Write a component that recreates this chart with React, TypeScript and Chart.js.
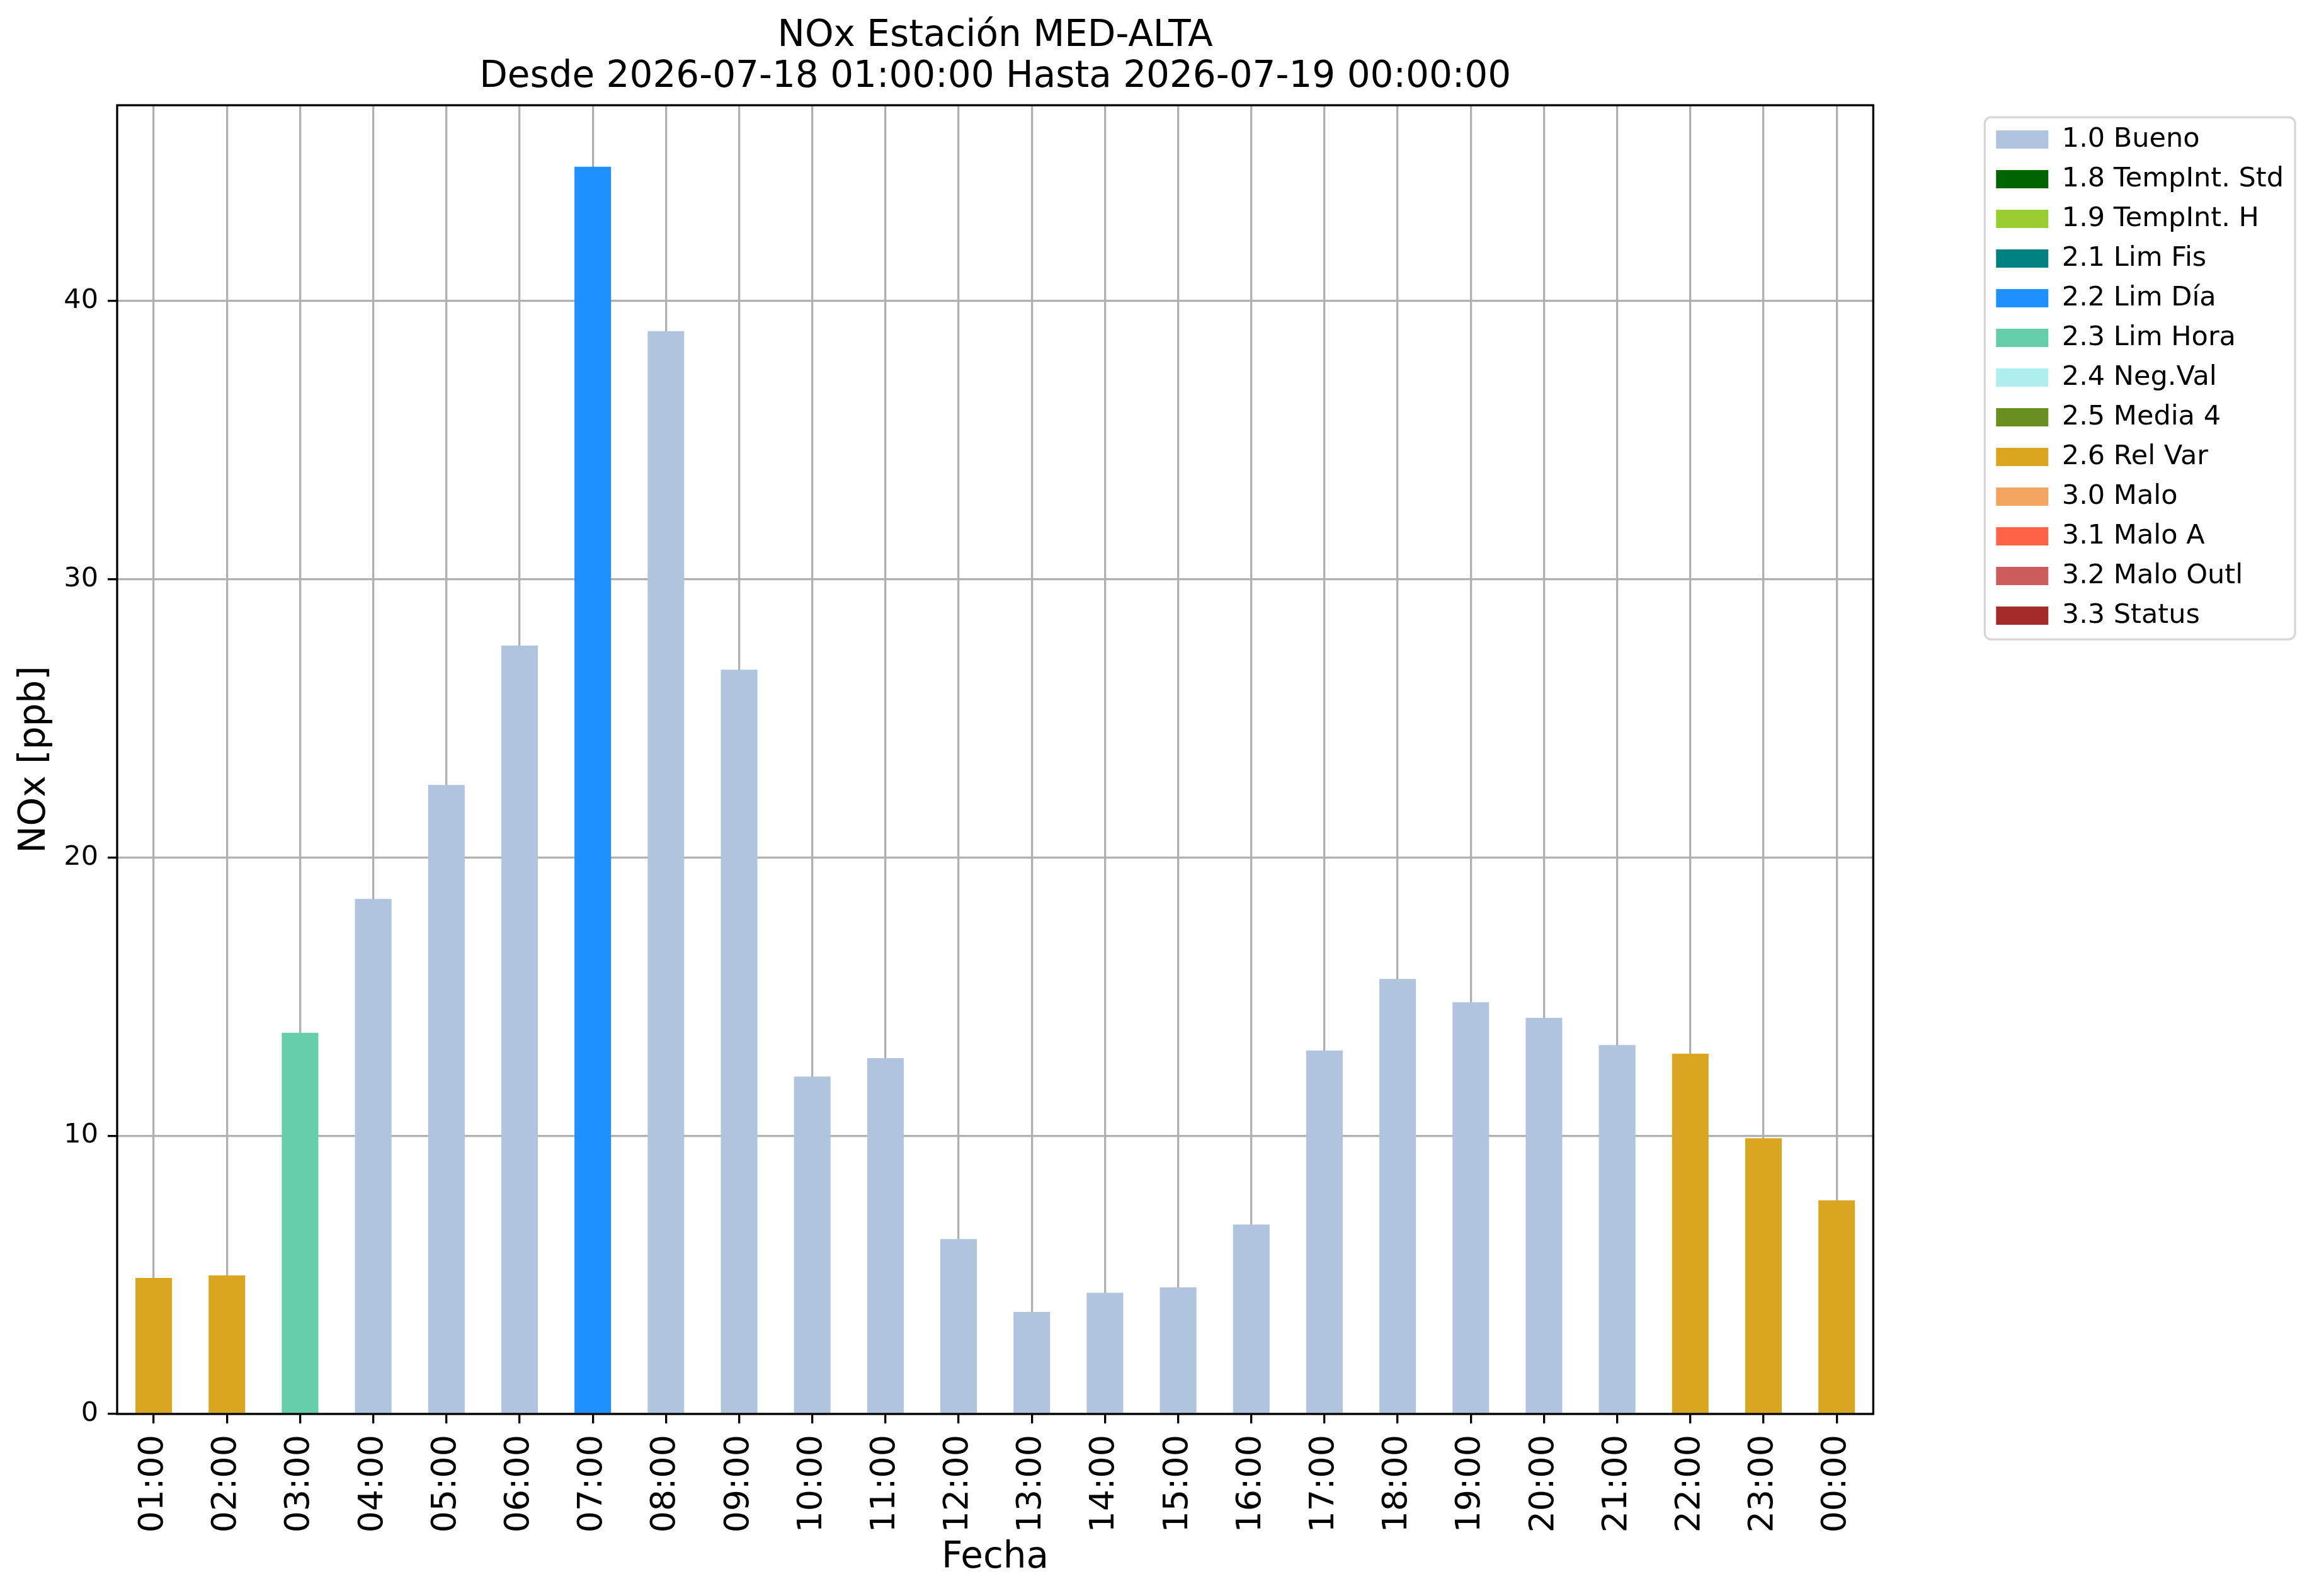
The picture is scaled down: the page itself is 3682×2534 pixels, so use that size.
import { useEffect, useRef } from "react"
import { Chart, registerables } from "chart.js"

Chart.register(...registerables)

// hourly NOx values
const hours = [
  "01:00", "02:00", "03:00", "04:00", "05:00", "06:00", "07:00", "08:00",
  "09:00", "10:00", "11:00", "12:00", "13:00", "14:00", "15:00", "16:00",
  "17:00", "18:00", "19:00", "20:00", "21:00", "22:00", "23:00", "00:00",
]
const nox = [
  4.89, 4.98, 13.7, 18.51, 22.61, 27.62, 44.83, 38.92,
  26.75, 12.13, 12.79, 6.29, 3.67, 4.36, 4.55, 6.81,
  13.06, 15.64, 14.8, 14.24, 13.26, 12.95, 9.91, 7.68,
]
// validation flag of each hour
const hourFlags = [
  "2.6", "2.6", "2.3", "1.0", "1.0", "1.0", "2.2", "1.0",
  "1.0", "1.0", "1.0", "1.0", "1.0", "1.0", "1.0", "1.0",
  "1.0", "1.0", "1.0", "1.0", "1.0", "2.6", "2.6", "2.6",
]

// legend entries
const flagCodes = ["1.0", "1.8", "1.9", "2.1", "2.2", "2.3", "2.4", "2.5", "2.6", "3.0", "3.1", "3.2", "3.3"]
const flagNames = [
  "Bueno", "TempInt. Std", "TempInt. H", "Lim Fis", "Lim Día", "Lim Hora",
  "Neg.Val", "Media 4", "Rel Var", "Malo", "Malo A", "Malo Outl", "Status",
]
const flagColors = [
  "#b0c4de", "#006400", "#9acd32", "#008080", "#1e90ff", "#66cdaa",
  "#afeeee", "#6b8e23", "#daa520", "#f4a460", "#ff6347", "#cd5c5c", "#a52a2a",
]

const yTicks = [0, 10, 20, 30, 40]
const yMax = 47.04

const titleLines = ["NOx Estación MED-ALTA", "Desde 2026-07-18 01:00:00 Hasta 2026-07-19 00:00:00"]

const FONT = "DejaVu Sans"
const LW = 3.3
const GRID = "#b0b0b0"

// black frame round the plot area and the rounded legend frame
const framePlugin = {
  id: "frames",
  afterDraw(chart: any) {
    const { ctx, chartArea } = chart
    ctx.save()
    ctx.strokeStyle = "#000"
    ctx.lineWidth = LW
    ctx.strokeRect(chartArea.left, chartArea.top, chartArea.right - chartArea.left, chartArea.bottom - chartArea.top)

    const boxes = chart.legend?.legendHitBoxes
    if (boxes && boxes.length) {
      const left = Math.min(...boxes.map((b: any) => b.left)) - 18
      const right = Math.max(...boxes.map((b: any) => b.left + b.width)) + 18
      const top = boxes[0].top - 14
      const last = boxes[boxes.length - 1]
      const bottom = last.top + last.height + 16
      const r = 10
      ctx.strokeStyle = "#d6d6d6"
      ctx.lineWidth = LW
      ctx.beginPath()
      ctx.moveTo(left + r, top)
      ctx.arcTo(right, top, right, bottom, r)
      ctx.arcTo(right, bottom, left, bottom, r)
      ctx.arcTo(left, bottom, left, top, r)
      ctx.arcTo(left, top, right, top, r)
      ctx.closePath()
      ctx.stroke()
    }
    ctx.restore()
  },
}

function NoxChart() {
  const canvasRef = useRef<HTMLCanvasElement>(null)
  const chartInstance = useRef<Chart | null>(null)

  useEffect(() => {
    if (!canvasRef.current) return
    if (chartInstance.current) chartInstance.current.destroy()

    Chart.defaults.font.family = FONT
    Chart.defaults.color = "#000"

    const datasets = flagCodes.map((code, i) => ({
      label: `${code} ${flagNames[i]}`,
      data: nox.map((v, j) => (hourFlags[j] === code ? v : null)),
      backgroundColor: flagColors[i],
      borderWidth: 0,
      stack: "nox",
    }))

    chartInstance.current = new Chart(canvasRef.current, {
      type: "bar",
      data: { labels: hours, datasets },
      plugins: [framePlugin],
      options: {
        animation: false,
        responsive: true,
        maintainAspectRatio: false,
        devicePixelRatio: 1,
        events: [],
        layout: { padding: { left: 0, right: 46, top: 0, bottom: 0 } },
        datasets: {
          bar: { categoryPercentage: 1, barPercentage: 0.5 },
        },
        scales: {
          x: {
            stacked: true,
            z: 1,
            offset: true,
            border: { display: false },
            grid: {
              offset: false,
              color: GRID,
              lineWidth: LW,
              tickColor: "#000",
              tickWidth: LW,
              tickLength: 15,
            },
            ticks: {
              autoSkip: false,
              minRotation: 90,
              maxRotation: 90,
              padding: 18,
              font: { size: 54 },
              color: "#000",
            },
            title: {
              display: true,
              text: "Fecha",
              font: { size: 58 },
              padding: { top: 0, bottom: 25 },
              color: "#000",
            },
            afterFit: (scale: any) => {
              scale.height = 289
            },
          },
          y: {
            stacked: true,
            z: 1,
            min: 0,
            max: yMax,
            border: { display: false },
            grid: {
              color: GRID,
              lineWidth: LW,
              tickColor: "#000",
              tickWidth: LW,
              tickLength: 15,
            },
            ticks: {
              padding: 15,
              font: { size: 43 },
              color: "#000",
            },
            afterBuildTicks: (scale: any) => {
              scale.ticks = yTicks.map((v) => ({ value: v }))
            },
            title: {
              display: true,
              text: "NOx [ppb]",
              font: { size: 58 },
              padding: { top: 21, bottom: 0 },
              color: "#000",
            },
            afterFit: (scale: any) => {
              scale.width = 186
            },
          },
          // empty axis that keeps the gap between plot and legend
          gap: {
            position: "right",
            display: true,
            grid: { display: false },
            border: { display: false },
            ticks: { display: false },
            afterFit: (scale: any) => {
              scale.width = 175
            },
          },
        },
        plugins: {
          tooltip: { enabled: false },
          title: {
            display: true,
            text: titleLines,
            fullSize: false,
            font: { size: 58, weight: "normal", lineHeight: 1.13 },
            color: "#000",
            padding: { top: 25, bottom: 11 },
          },
          legend: {
            display: true,
            position: "right",
            align: "start",
            fullSize: false,
            title: {
              display: true,
              text: " ",
              font: { size: 13, lineHeight: 1 },
              padding: 0,
            },
            labels: {
              boxWidth: 83,
              boxHeight: 29,
              padding: 20,
              font: { size: 43 },
              color: "#000",
            },
          },
        },
      } as any,
    })

    return () => {
      if (chartInstance.current) {
        chartInstance.current.destroy()
        chartInstance.current = null
      }
    }
  }, [])

  return <canvas ref={canvasRef} />
}

export default function App() {
  return (
    <div style={{ position: "fixed", left: 0, top: 0, width: 3682, height: 2534, background: "#fff" }}>
      <NoxChart />
    </div>
  )
}
